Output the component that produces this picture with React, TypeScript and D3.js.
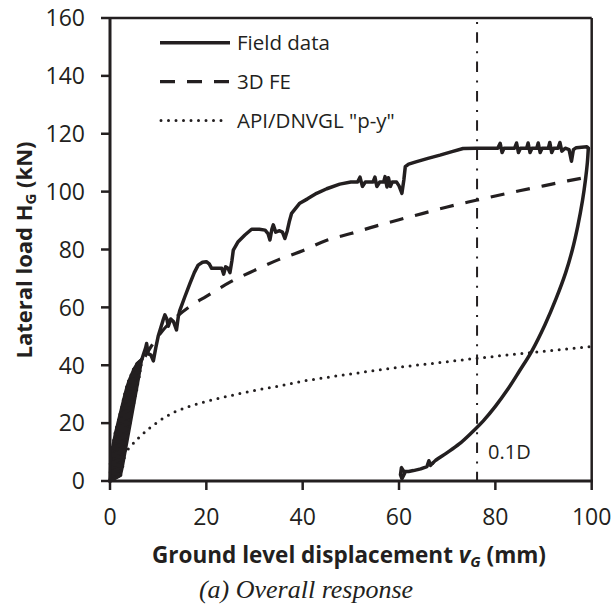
import React from "react";
import * as d3 from "d3";

const xTicks = [0, 20, 40, 60, 80, 100];
const yTicks = [0, 20, 40, 60, 80, 100, 120, 140, 160];

// Field data: initial cyclic band (0-6 mm)
const fieldBand: [number, number][] = [
  [0, 0], [2.2, 2], [0.1, 3], [2.6, 5], [0.1, 6], [2.9, 8], [0.2, 9], [3.1, 10.5],
  [0.5, 11.5], [3.3, 13], [0.8, 14], [3.6, 15.5], [1.1, 16.5], [3.8, 18], [1.4, 18.5],
  [4.1, 20], [1.8, 21], [4.4, 22.5], [2.1, 23], [4.6, 25], [2.5, 25.5], [4.9, 27],
  [2.8, 28], [5.2, 29.5], [3.1, 30], [5.5, 31.5], [3.5, 32.5], [5.7, 33.5], [3.9, 34.5],
  [6.0, 36], [4.4, 36.5], [6.2, 38], [4.9, 38.5], [6.4, 40], [5.6, 40.5], [6.6, 42],
];

// Field data: monotonic loading with hold periods
const fieldLoading: [number, number][] = [
  [6.6, 42], [6.9, 43.5], [7.4, 46], [7.6, 47.5],
  [7.9, 44], [8.5, 43.5], [9.0, 41.5], [9.5, 46], [10, 50], [11, 55.5], [11.4, 57.4],
  [11.8, 56], [12.1, 53.5], [12.6, 56], [13.2, 55], [13.8, 52.2], [14.2, 57], [14.5, 59],
  [15.5, 63.5], [16.6, 68.3], [17.5, 72], [18.3, 74.6], [19.2, 75.6], [20, 75.8], [20.6, 75],
  [21.1, 73.5], [22.5, 73.5], [23.2, 73.5], [23.6, 71.5], [24, 74], [24.5, 73.5], [24.9, 72],
  [25.3, 76], [25.6, 79.8], [26.6, 82.7], [28, 85], [29.4, 87], [31, 87], [32.2, 86.7],
  [32.8, 85.5], [33.2, 83.3], [33.6, 87], [33.9, 88.5], [34.4, 86], [35.2, 86.5], [35.8, 86],
  [36.3, 83.8], [36.8, 86.5], [37.2, 89.5], [37.7, 92.5], [39.4, 96], [41, 97.5], [42.9, 99.4],
  [45, 101], [47.7, 102.6], [50, 103.3], [51.4, 103.3], [51.9, 105], [52.4, 101.8], [53, 103.3],
  [54.6, 103.3], [55, 105], [55.4, 101.8], [56, 103.3], [56.8, 103.3], [57.1, 105.2],
  [57.5, 101.6], [57.8, 104.8], [58.2, 101.8], [58.6, 103.3], [59.5, 103.3], [60, 102],
  [60.6, 99.4], [61, 104], [61.3, 108.6], [62, 109.5], [63.5, 110.3], [66, 111.5],
  [68.5, 112.6], [71, 113.8], [73.3, 114.9], [76, 115], [80.5, 115], [81, 116.7], [81.4, 113.5],
  [81.8, 115], [84, 115], [84.4, 116.8], [84.8, 113.5], [85.2, 115], [86.5, 115], [86.8, 116.8],
  [87.2, 113.5], [87.6, 115], [88.6, 115], [88.9, 116.8], [89.3, 113.5], [89.7, 115], [91, 115],
  [91.3, 117], [91.7, 113.5], [92.1, 115], [93, 115], [93.4, 117], [93.8, 114], [94.5, 115],
  [95.3, 114.5], [95.8, 110.5], [96.2, 114.5], [96.8, 115.2], [99, 115.5], [99.3, 115],
];

// Field data: unloading branch
const fieldUnloading: [number, number][] = [
  [99.3, 115], [99.1, 110], [98.7, 104], [98.1, 97], [97.1, 88], [96, 80], [94.6, 72],
  [92.6, 63], [90.3, 54], [87.6, 45], [85, 38], [82.5, 31.5], [80, 25.8], [77.5, 20.8],
  [75, 16.6], [72.5, 12.8], [70, 9.8], [67.5, 7], [67, 6.2],
];
const fieldTail: [number, number][] = [
  [67, 6.2], [66.5, 5.4], [66.2, 7], [65.8, 5], [64.5, 4.2], [63, 3.6], [62, 3.3], [61, 3.3],
  [60.5, 4.6], [60.3, 2.2], [60.6, 0.8], [61.2, 2.8],
];

const feX = [0, 1, 2, 3, 4, 6, 8, 10, 12, 14, 17, 20, 25, 30, 35, 40, 45, 50, 55, 60, 65, 70, 76, 80, 85, 90, 95, 100];
const feY = [0, 10, 19, 26, 31, 39, 45, 50, 54, 57, 60.8, 63.8, 68.8, 72.8, 76.5, 79.6, 83.2, 85.5, 88, 90.3, 92.5, 94.7, 97, 98.5, 100.3, 102, 103.7, 105.3];

const apiX = [0, 0.5, 1, 2, 3, 4, 6, 8, 10, 13, 16, 20, 25, 30, 35, 40, 45, 50, 60, 70, 76, 80, 90, 100];
const apiY = [0, 3, 5, 7.5, 9.5, 11.5, 15, 18, 20.5, 23.5, 25.5, 27.5, 29.5, 31.3, 32.8, 34.5, 35.8, 37, 39.3, 41.2, 42.4, 43.1, 44.8, 46.5];

const refLineX = 76.2;
const legendLabels = ["Field data", "3D FE", 'API/DNVGL "p-y"'];

const INK = "#231f20";
const FONT = "'Open Sans', 'Noto Sans', sans-serif";

export default function App() {
  const x = d3.scaleLinear().domain([0, 100]).range([110, 591.7]);
  const y = d3.scaleLinear().domain([0, 160]).range([481, 18]);

  const lineLinear = d3
    .line<[number, number]>()
    .x((d) => x(d[0]))
    .y((d) => y(d[1]));
  const lineSmooth = d3
    .line<[number, number]>()
    .x((d) => x(d[0]))
    .y((d) => y(d[1]))
    .curve(d3.curveMonotoneX);
  const lineCR = d3
    .line<[number, number]>()
    .x((d) => x(d[0]))
    .y((d) => y(d[1]))
    .curve(d3.curveCatmullRom.alpha(0.5));

  const feData = feX.map((v, i) => [v, feY[i]] as [number, number]);
  const apiData = apiX.map((v, i) => [v, apiY[i]] as [number, number]);

  const bandPx = fieldBand.map((d) => [x(d[0]), y(d[1])] as [number, number]);
  const hull = d3.polygonHull(bandPx) || [];
  const hullPath = hull.length ? "M" + hull.map((p) => p.join(",")).join("L") + "Z" : "";

  const [x0, x1] = x.range();
  const [y0, y1] = y.range();

  const legY = [42.7, 81.7, 120.5];

  return (
    <svg
      width={612}
      height={609}
      style={{ position: "absolute", left: 0, top: 0, background: "#fff" }}
      fontFamily={FONT}
    >
      <rect x={0} y={0} width={612} height={609} fill="#fff" />

      {/* API dotted */}
      <path
        d={lineSmooth(apiData) || ""}
        fill="none"
        stroke={INK}
        strokeWidth={3}
        strokeDasharray="0 7.5"
        strokeLinecap="round"
      />
      {/* 3D FE dashed */}
      <path
        d={lineSmooth(feData) || ""}
        fill="none"
        stroke={INK}
        strokeWidth={3.2}
        strokeDasharray="14 12"
      />
      {/* Field data: cyclic band */}
      <path d={hullPath} fill={INK} stroke={INK} strokeWidth={3} strokeLinejoin="round" />
      <path
        d={lineLinear(fieldBand) || ""}
        fill="none"
        stroke={INK}
        strokeWidth={3.5}
        strokeLinejoin="round"
        strokeLinecap="round"
      />
      <path
        d={lineLinear(fieldLoading) || ""}
        fill="none"
        stroke={INK}
        strokeWidth={3.5}
        strokeLinejoin="round"
        strokeLinecap="round"
      />
      <path
        d={lineCR(fieldUnloading) || ""}
        fill="none"
        stroke={INK}
        strokeWidth={3.5}
        strokeLinejoin="round"
        strokeLinecap="round"
      />
      <path
        d={lineLinear(fieldTail) || ""}
        fill="none"
        stroke={INK}
        strokeWidth={3.5}
        strokeLinejoin="round"
        strokeLinecap="round"
      />

      {/* 0.1D reference line */}
      <line
        x1={x(refLineX)}
        x2={x(refLineX)}
        y1={y1}
        y2={y0}
        stroke={INK}
        strokeWidth={2}
        strokeDasharray="10.5 8.5 2 8.3"
        strokeDashoffset={15}
      />
      <text x={x(refLineX) + 11} y={459} fontSize={20} fill={INK}>
        0.1D
      </text>

      {/* frame */}
      <line x1={x0} x2={x1} y1={y1} y2={y1} stroke={INK} strokeWidth={2.5} />
      <line x1={x1} x2={x1} y1={y1} y2={y0} stroke={INK} strokeWidth={2.5} />
      <line x1={x0} x2={x0} y1={y1 - 1} y2={y0 + 1.5} stroke={INK} strokeWidth={3} />
      <line x1={x0 - 1.5} x2={x1 + 1.2} y1={y0} y2={y0} stroke={INK} strokeWidth={3} />

      {/* y ticks */}
      {yTicks.map((t) => (
        <g key={"y" + t}>
          <line x1={x0 - 9} x2={x0} y1={y(t)} y2={y(t)} stroke={INK} strokeWidth={2.5} />
          <text x={85} y={y(t)} dy="0.36em" textAnchor="end" fontSize={23} fill={INK}>
            {t}
          </text>
        </g>
      ))}
      {/* x ticks */}
      {xTicks.map((t) => (
        <g key={"x" + t}>
          <line x1={x(t)} x2={x(t)} y1={y0} y2={y0 + 9} stroke={INK} strokeWidth={2.5} />
          <text x={x(t)} y={525} textAnchor="middle" fontSize={23} fill={INK}>
            {t}
          </text>
        </g>
      ))}

      {/* legend */}
      <line x1={160} x2={230} y1={legY[0]} y2={legY[0]} stroke={INK} strokeWidth={3.5} />
      <line x1={160} x2={230} y1={legY[1]} y2={legY[1]} stroke={INK} strokeWidth={3.2} strokeDasharray="15 12" />
      <line x1={161} x2={222} y1={legY[2]} y2={legY[2]} stroke={INK} strokeWidth={3} strokeDasharray="0 7.5" strokeLinecap="round" />
      {legendLabels.map((l, i) => (
        <text key={l} x={237} y={legY[i] + 7} fontSize={20.5} fill={INK}>
          {l}
        </text>
      ))}

      {/* y axis title */}
      <text
        transform="translate(32,250) rotate(-90)"
        textAnchor="middle"
        fontSize={22}
        fontWeight={700}
        fill={INK}
      >
        Lateral load H<tspan fontSize={15} dy={4}>G</tspan>
        <tspan dy={-4}> (kN)</tspan>
      </text>

      {/* x axis title */}
      <text x={349} y={563} textAnchor="middle" fontSize={22.5} fontWeight={700} fill={INK}>
        Ground level displacement{" "}
        <tspan fontStyle="italic">v</tspan>
        <tspan fontStyle="italic" fontSize={15} dy={4}>G</tspan>
        <tspan dy={-4}> (mm)</tspan>
      </text>

      {/* caption */}
      <text
        x={306}
        y={598}
        textAnchor="middle"
        fontSize={26}
        fontStyle="italic"
        fontFamily="'Liberation Serif', 'DejaVu Serif', serif"
        fill={INK}
      >
        (a) Overall response
      </text>
    </svg>
  );
}
